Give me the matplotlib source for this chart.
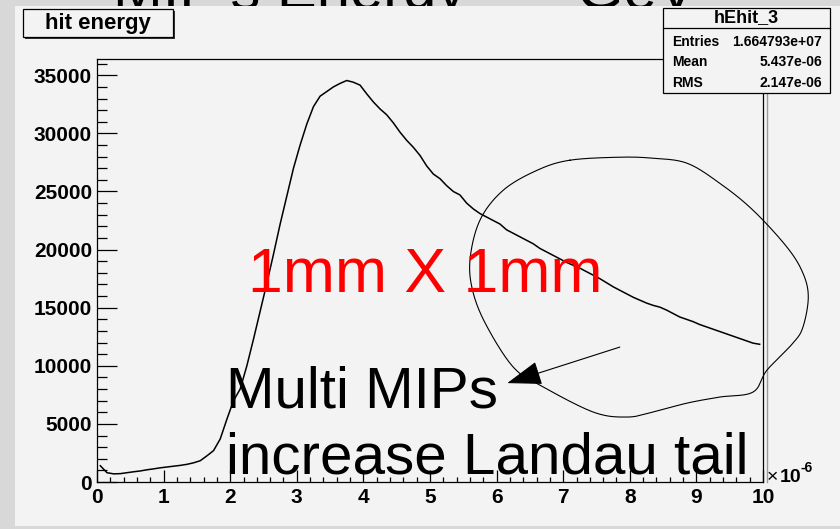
import matplotlib.pyplot as plt
import numpy as np
from matplotlib.patches import Rectangle
from matplotlib.ticker import MultipleLocator

# hit energy histogram (x in units of 1e-6 GeV, bins of 0.1)
bin_width = 0.1
bin_counts = [
    1400, 800, 700, 720, 800, 880, 950, 1050, 1130, 1220,
    1290, 1360, 1430, 1520, 1650, 1830, 2250, 2700, 3700, 5400,
    7000, 8000, 10000, 12300, 14700, 17100, 19600, 22200, 24600, 27000,
    29000, 30800, 32300, 33200, 33600, 34000, 34300, 34550, 34400, 34150,
    33400, 32700, 32100, 31600, 30900, 30100, 29400, 28800, 28100, 27200,
    26500, 26100, 25500, 25000, 24700, 24000, 23500, 23100, 22800, 22500,
    22200, 21700, 21400, 21100, 20800, 20500, 20100, 19800, 19500, 19200,
    18900, 18650, 18400, 18100, 17800, 17500, 17150, 16800, 16500, 16200,
    15900, 15650, 15400, 15200, 15050, 14800, 14500, 14200, 14000, 13800,
    13550, 13350, 13150, 12950, 12750, 12550, 12350, 12150, 11950, 11850,
]

hist_name = "hEhit_3"
hist_title = "hit energy"
stat_names = ["Entries", "Mean", "RMS"]
stat_values = ["1.664793e+07", "5.437e-06", "2.147e-06"]

W, H = 840, 529
FONT = "Liberation Sans"


def fx(x):
    return x / W


def fy(y):
    return 1 - y / H


def closed_curve(xs, ys, n=24):
    # smooth closed Catmull-Rom curve through the given points
    pts = np.column_stack([xs, ys])
    m = len(pts)
    t = np.linspace(0, 1, n, endpoint=False)[:, None]
    out = []
    for i in range(m):
        p0, p1, p2, p3 = pts[i - 1], pts[i], pts[(i + 1) % m], pts[(i + 2) % m]
        seg = 0.5 * ((2 * p1) + (-p0 + p2) * t + (2 * p0 - 5 * p1 + 4 * p2 - p3) * t ** 2
                     + (-p0 + 3 * p1 - 3 * p2 + p3) * t ** 3)
        out.append(seg)
    out = np.vstack(out + [pts[:1]])
    return out[:, 0], out[:, 1]


plt.rcParams['font.family'] = [FONT, 'DejaVu Sans']

fig = plt.figure(figsize=(W / 100, H / 100), dpi=100)
fig.patch.set_facecolor('#d8d8d8')

# slide heading, mostly hidden behind the canvas
fig.text(fx(113), fy(9), "MIP's Energy ~", fontsize=43, color='black',
         va='baseline', ha='left', zorder=-3)
fig.text(fx(577), fy(9), "GeV", fontsize=43, color='black',
         va='baseline', ha='left', zorder=-3)

# canvas
fig.add_artist(Rectangle((fx(15), fy(526)), fx(840 - 15), (526 - 5.5) / H,
                         transform=fig.transFigure, facecolor='#f3f3f3',
                         edgecolor='none', zorder=-2))

ax = fig.add_axes([fx(97), fy(482), fx(763 - 97), (482 - 59) / H])
ax.set_facecolor('#f3f3f3')

# frame shadow on the right
fig.add_artist(plt.Line2D([fx(766.5), fx(766.5)], [fy(59), fy(482)],
                          transform=fig.transFigure, color='#9a9a9a', lw=1.0, zorder=-1))

centres = bin_width * (np.arange(len(bin_counts)) + 0.5)
ax.plot(centres, bin_counts, color='black', lw=1.1)

ax.set_xlim(0, 10)
ax.set_ylim(0, 36400)
ax.xaxis.set_major_locator(MultipleLocator(1))
ax.xaxis.set_minor_locator(MultipleLocator(0.2))
ax.yaxis.set_major_locator(MultipleLocator(5000))
ax.yaxis.set_minor_locator(MultipleLocator(1000))
ax.tick_params(axis='y', which='major', direction='in', length=14.4, width=0.9, pad=3.6,
               labelsize=15, right=False)
ax.tick_params(axis='y', which='minor', direction='in', length=7.2, width=0.9, right=False)
ax.tick_params(axis='x', which='major', direction='in', length=8.6, width=0.9, pad=4.0,
               labelsize=15, top=False)
ax.tick_params(axis='x', which='minor', direction='in', length=3.8, width=0.9, top=False)
for lab in ax.get_xticklabels() + ax.get_yticklabels():
    lab.set_fontweight('bold')
for sp in ax.spines.values():
    sp.set_linewidth(0.9)

ax.text(10.06, 0, "\u00d7", fontsize=14, va='baseline', ha='left', clip_on=False)
ax.text(10.25, 0, "10", fontsize=14, fontweight='bold', va='baseline',
        ha='left', clip_on=False)
ax.text(10.56, 900, "-6", fontsize=10, fontweight='bold', va='baseline',
        ha='left', clip_on=False)

# annotations
ax.text(2.26, 16340, "1mm X 1mm", fontsize=45, color='red', va='baseline',
        ha='left', clip_on=False)
ax.text(1.93, 6450, "Multi MIPs", fontsize=42, color='black', va='baseline',
        ha='left', clip_on=False)
ax.text(1.93, 770, "increase Landau tail", fontsize=42, color='black', va='baseline',
        ha='left', clip_on=False)

ax.annotate("", xy=(6.16, 8510), xytext=(7.85, 11610), annotation_clip=False,
            arrowprops=dict(arrowstyle='-|>,head_length=1.1,head_width=0.38',
                            mutation_scale=20, color='black', lw=0.8,
                            shrinkA=0, shrinkB=0))

ring_x = [7.10, 7.85, 8.35, 8.86, 9.35, 9.85, 10.36, 10.60, 10.68, 10.60, 10.45, 10.06, 9.85,
          9.35, 8.86, 8.35, 7.96, 7.45, 6.65, 6.25, 5.86, 5.65, 5.60, 5.75, 6.10, 6.61]
ring_y = [27690, 27950, 27860, 27430, 25710, 23390, 20210, 17970, 15910, 13330, 11950, 9630,
          7740, 7310, 6790, 6020, 5590, 6020, 8340, 9890, 13330, 16250, 19090, 22530, 25110,
          26830]
cx, cy = closed_curve(ring_x, ring_y)
ax.plot(cx, cy, color='black', lw=0.8, clip_on=False)

# title box
fig.add_artist(Rectangle((fx(25), fy(39)), fx(150), 28 / H, transform=fig.transFigure,
                         facecolor='#333333', edgecolor='none', zorder=5))
fig.add_artist(Rectangle((fx(23), fy(37)), fx(150), 28 / H, transform=fig.transFigure,
                         facecolor='#f3f3f3', edgecolor='black', lw=0.9, zorder=6))
fig.text(fx(98), fy(23), hist_title, fontsize=16, fontweight='bold', ha='center',
         va='center', zorder=7)

# statistics box
fig.add_artist(Rectangle((fx(664), fy(94)), fx(167), 85 / H, transform=fig.transFigure,
                         facecolor='#555555', edgecolor='none', zorder=5))
fig.add_artist(Rectangle((fx(663), fy(93)), fx(167), 85 / H, transform=fig.transFigure,
                         facecolor='#f3f3f3', edgecolor='black', lw=0.9, zorder=6))
fig.add_artist(plt.Line2D([fx(663), fx(830)], [fy(28), fy(28)], transform=fig.transFigure,
                          color='black', lw=0.9, zorder=7))
fig.text(fx(746), fy(18), hist_name, fontsize=13, fontweight='bold', ha='center',
         va='center', zorder=7)
for i, (name, val) in enumerate(zip(stat_names, stat_values)):
    yy = fy(42 + 20.5 * i)
    fig.text(fx(672), yy, name, fontsize=10, fontweight='bold', ha='left',
             va='center', zorder=7)
    fig.text(fx(822), yy, val, fontsize=10, fontweight='bold', ha='right',
             va='center', zorder=7)

fig.savefig('out.png', dpi=100, facecolor=fig.get_facecolor())
